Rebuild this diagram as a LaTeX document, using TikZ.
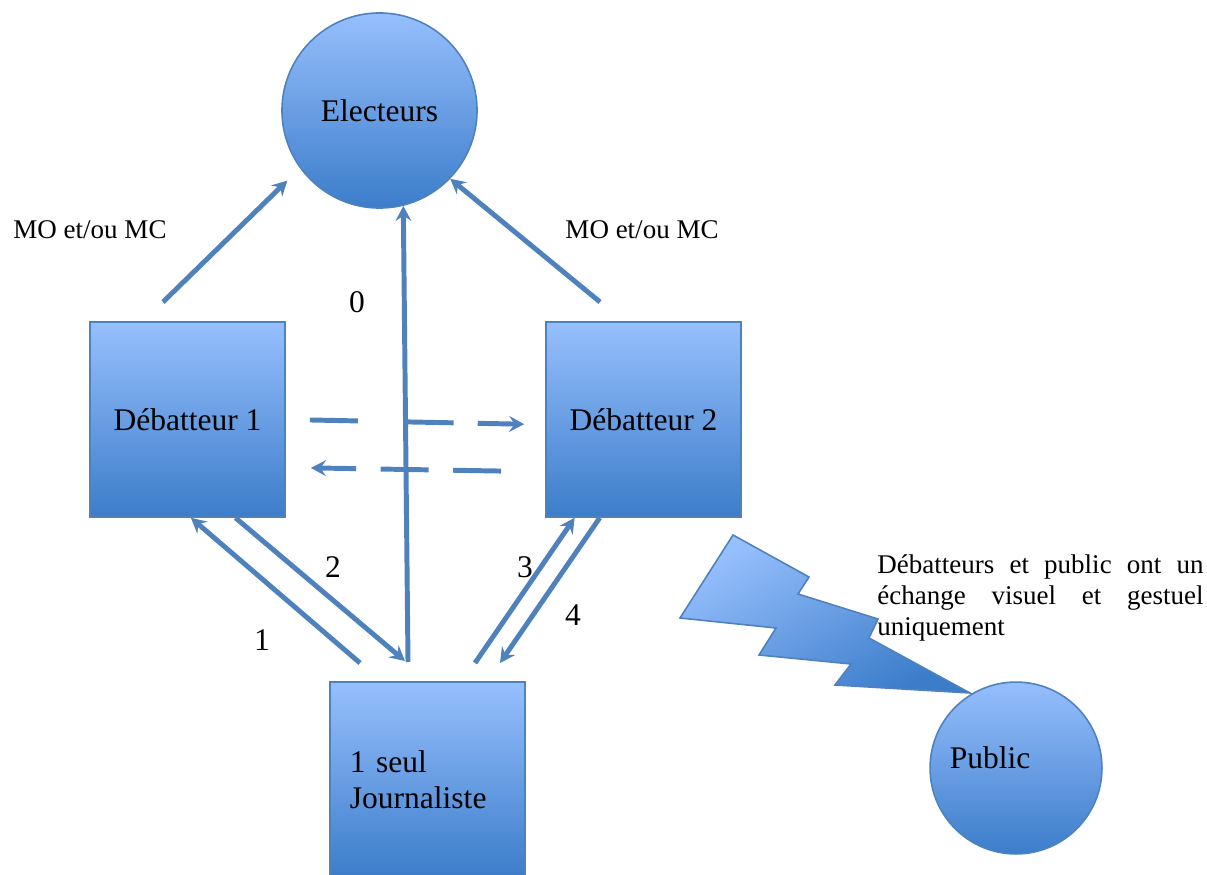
\documentclass[tikz,border=0pt]{standalone}
\usepackage{fontspec}
\setmainfont{Liberation Serif}
\usetikzlibrary{arrows.meta}
\definecolor{bordbleu}{RGB}{79,129,189}
\definecolor{hautbleu}{RGB}{150,191,253}
\definecolor{basbleu}{RGB}{60,125,202}
\begin{document}
\begin{tikzpicture}
    [x=0.4444pt, y=-0.4444pt,
    boite/.style={rectangle, draw=bordbleu, line width=0.7pt, top color=hautbleu, bottom color=basbleu,
      minimum width=86.7pt, minimum height=86.7pt, font=\fontsize{14}{16.1}\selectfont},
    rond/.style={circle, draw=bordbleu, line width=0.7pt, top color=hautbleu, bottom color=basbleu,
      inner sep=0pt, font=\fontsize{14}{16.1}\selectfont},
    fleche/.style={draw=bordbleu, line width=2.2pt, -{Stealth[length=6.7pt, width=7pt, inset=2.4pt]}},
    etiq/.style={font=\fontsize{14}{16.1}\selectfont},
    petit/.style={font=\fontsize{12}{13.8}\selectfont}]
  \useasboundingbox (0,0) rectangle (1207,874);
  \node[rond, minimum size=86.7pt] (el) at (379.5,110.5) {Electeurs};
  \node[boite] (deb1) at (187.5,419.5) {Débatteur 1};
  \node[boite] (deb2) at (643.5,419.5) {Débatteur 2};
  \node[boite, text width=68.9pt, inner xsep=8.9pt, align=left] (journ) at (427.5,779.5) {1 seul\\ Journaliste};
  \shade[draw=bordbleu, line width=0.7pt, top color=hautbleu, bottom color=basbleu, shading angle=30]
    (733,535) -- (809,577) -- (798,594) -- (878,619) -- (869,638) -- (970,693)
    -- (835,685) -- (851,664) -- (759,655) -- (776,628) -- (680,618) -- cycle;
  \node[rond, minimum size=76.4pt] (public) at (1016,768) {};
  \node[etiq] (pubtxt) at (990,758) {Public};
  \coordinate (d1haut) at (163,302);
  \coordinate (d2haut) at (600,302);
  \coordinate (j0) at (408,662);
  \coordinate (j1) at (360,663);
  \coordinate (j2) at (405,661);
  \coordinate (j3) at (475,663);
  \coordinate (j4) at (500,663);
  \draw[fleche, shorten <=10.7pt, shorten >=9.3pt, dash pattern=on 21.3pt off 22.2pt on 20.4pt off 10.7pt on 40pt]
    (deb1.east) -- (deb2.-177);
  \draw[fleche, shorten <=19.6pt, shorten >=11.1pt, dash pattern=on 21.3pt off 10.9pt]
    (deb2.208) -- (deb1.-26);
  \draw[fleche, shorten >=7.8pt] (d1haut) -- (el.216);
  \draw[fleche] (d2haut) -- (el.-44);
  \draw[fleche] (j0) -- (el.-76);
  \draw[fleche] (j1) -- (deb1.-88);
  \draw[fleche] (deb1.-64) -- (j2);
  \draw[fleche] (j3) -- (deb2.-125);
  \draw[fleche] (deb2.-114) -- (j4);
  \node[petit] (mo1) at (90,230) {MO et/ou MC};
  \node[petit] (mo2) at (642,230) {MO et/ou MC};
  \node[etiq] (n0) at (357,302) {0};
  \node[etiq] (n1) at (262,640) {1};
  \node[etiq] (n2) at (333,567) {2};
  \node[etiq] (n3) at (525,567) {3};
  \node[etiq] (n4) at (573,615) {4};
  \node[petit, anchor=north west, inner sep=0pt, text width=144.9pt, align=justify] (note) at (877,554)
    {Débatteurs et public ont un\linebreak échange visuel et gestuel\linebreak uniquement};
\end{tikzpicture}
\end{document}
